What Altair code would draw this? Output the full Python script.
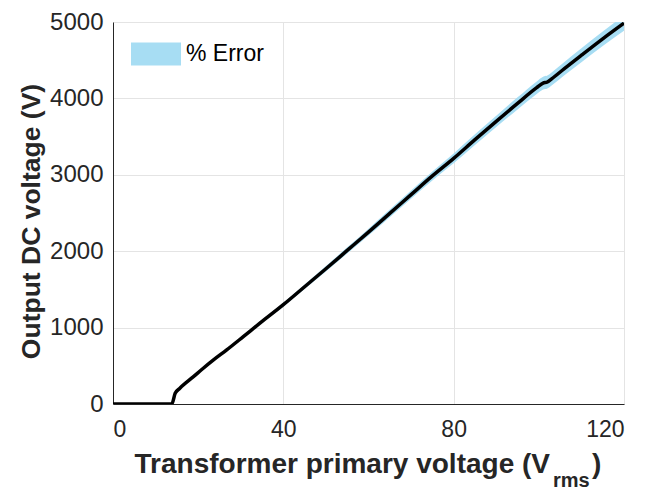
import altair as alt
import pandas as pd

# Values
x_vrms = [0, 13.8, 14.6, 15.7, 18.9, 21.2, 23.6, 26.7, 30.6, 34.5, 40, 45,
          50, 55, 60, 65, 70, 75, 80, 85, 90, 95, 99.5, 101, 102, 103,
          106, 110, 115, 120]
y_vdc = [0, 0, 140, 206, 358, 468, 577, 708, 882, 1058, 1300, 1535,
         1770, 2010, 2250, 2495, 2740, 2985, 3215, 3460, 3700, 3935, 4140,
         4200, 4215, 4255, 4390, 4565, 4780, 4985]
error_pct = 2.0  # half-width of the shaded band, in percent of the output
x_ticks = [0, 40, 80, 120]
y_ticks = [0, 1000, 2000, 3000, 4000, 5000]

BAND = "#a7ddf3"
INK = "#262626"
FONT = "Liberation Sans"

df = pd.DataFrame({"x": x_vrms, "y": y_vdc})

xs = alt.Scale(domain=[0, 120], nice=False)
ys = alt.Scale(domain=[0, 5000], nice=False)

x_axis = alt.Axis(values=x_ticks, title=None, grid=True, gridColor="#e4e4e4",
                  ticks=False, domainColor=INK, labelFontSize=23,
                  labelColor=INK, labelPadding=14, labelFont=FONT)
y_axis = alt.Axis(values=y_ticks, format="d", title="Output DC voltage (V)",
                  grid=True, gridColor="#e4e4e4", ticks=False,
                  domainColor=INK, labelFontSize=24, labelColor=INK,
                  labelPadding=10, labelFont=FONT, titleFontSize=26.5,
                  titleFontWeight="bold", titleColor=INK, titleFont=FONT,
                  titleAngle=-90, titleX=-74, titleY=199, titleAlign="center",
                  titleBaseline="alphabetic")

base = alt.Chart(df)

band = base.transform_calculate(
    lo=f"datum.y * (1 - {error_pct} / 100)",
    hi=f"datum.y * (1 + {error_pct} / 100)",
    series="'% Error'",
).mark_area(clip=True, opacity=1, interpolate="monotone").encode(
    x=alt.X("x:Q", scale=xs, axis=x_axis),
    y=alt.Y("lo:Q", scale=ys, axis=y_axis),
    y2="hi:Q",
    color=alt.Color(
        "series:N",
        scale=alt.Scale(domain=["% Error"], range=[BAND]),
        legend=alt.Legend(
            title=None, orient="none", legendX=18, legendY=7, padding=0,
            symbolType="M-1,-0.46H1V0.46H-1Z", symbolSize=2500,
            symbolOpacity=1, symbolStrokeWidth=0, labelFontSize=23,
            labelFont=FONT, labelColor="#000000", labelOffset=5,
        ),
    ),
)

line = base.mark_line(color="black", strokeWidth=3.5, clip=True,
                      interpolate="monotone").encode(
    x=alt.X("x:Q", scale=xs),
    y=alt.Y("y:Q", scale=ys),
)

one = alt.Data(values=[{}])
title_main = alt.Chart(one).mark_text(
    align="right", baseline="alphabetic", fontSize=28, fontWeight="bold",
    font=FONT, color=INK,
).encode(x=alt.value(437), y=alt.value(451),
         text=alt.value("Transformer primary voltage (V"))
title_sub = alt.Chart(one).mark_text(
    align="left", baseline="alphabetic", fontSize=20, fontWeight="bold",
    font=FONT, color=INK,
).encode(x=alt.value(440), y=alt.value(465), text=alt.value("rms"))
title_close = alt.Chart(one).mark_text(
    align="left", baseline="alphabetic", fontSize=28, fontWeight="bold",
    font=FONT, color=INK,
).encode(x=alt.value(479), y=alt.value(451), text=alt.value(")"))

chart = alt.layer(band, line, title_main, title_sub, title_close).properties(
    width=511, height=382,
    padding={"left": 113, "top": 22, "right": 23, "bottom": 88},
    autosize=alt.AutoSizeParams(type="none"),
    background="white",
).configure_view(stroke=None)

chart.save("out.html", embed_options={"renderer": "svg", "actions": False})
